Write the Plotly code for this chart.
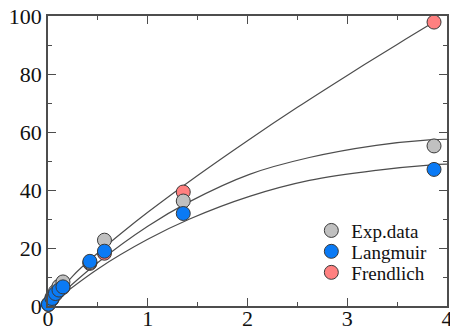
import plotly.graph_objects as go

# ---- data ----
x_data = [0.005, 0.04, 0.075, 0.11, 0.15, 0.42, 0.566, 1.356, 3.87]
exp_data = [0.8, 3.0, 5.0, 6.8, 8.3, 15.0, 22.7, 36.2, 55.2]
langmuir = [0.6, 2.6, 4.3, 5.5, 6.6, 15.4, 18.9, 31.9, 47.1]
frendlich = [0.5, 2.3, 4.0, 5.3, 6.4, 14.7, 18.2, 39.3, 97.9]

# fitted curves
x_curve = [0, 0.5, 1.0, 1.42, 2.02, 2.62, 3.29, 3.82, 4.0]
exp_curve = [0, 15.0, 27.5, 36.0, 45.4, 51.2, 55.4, 57.3, 57.5]
lang_curve = [0, 12.8, 23.0, 30.0, 37.8, 43.3, 46.8, 48.6, 48.9]
x_fren_curve = [0, 0.25, 0.5, 0.75, 1.0, 1.5, 2.0, 2.5, 3.0, 3.5, 3.87]
fren_curve = [0, 10.4, 18.3, 25.5, 32.3, 45.0, 57.0, 68.5, 79.5, 90.2, 97.9]

x_ticks = [0, 1, 2, 3, 4]
y_ticks = [0, 20, 40, 60, 80, 100]

FONT = "Liberation Serif"
LINE = "#4d4d4d"
EDGE = "#3a3a3a"

fig = go.Figure()

for xc, yc in [(x_curve, exp_curve), (x_curve, lang_curve), (x_fren_curve, fren_curve)]:
    fig.add_trace(go.Scatter(x=xc, y=yc, mode="lines", line=dict(color=LINE, width=1.2, shape="spline"),
                             showlegend=False, hoverinfo="skip", cliponaxis=False))

def mk(color):
    return dict(size=14, color=color, line=dict(color=EDGE, width=1))

fig.add_trace(go.Scatter(x=x_data, y=frendlich, mode="markers", name="Frendlich",
                         marker=mk("#ff8080"), cliponaxis=False, legend="legend3"))
fig.add_trace(go.Scatter(x=x_data, y=exp_data, mode="markers", name="Exp.data",
                         marker=mk("#c0c0c0"), cliponaxis=False, legend="legend"))
fig.add_trace(go.Scatter(x=x_data, y=langmuir, mode="markers", name="Langmuir",
                         marker=mk("#0a7af5"), cliponaxis=False, legend="legend2"))

leg_common = dict(x=0.66, xanchor="left", yanchor="middle", bgcolor="rgba(0,0,0,0)",
                  font=dict(family=FONT, size=19, color="#111"), borderwidth=0,
                  itemsizing="trace")

fig.update_layout(
    width=450, height=328,
    margin=dict(l=48, r=3, t=16, b=22),
    paper_bgcolor="white", plot_bgcolor="white",
    font=dict(family=FONT, size=22, color="#111"),
    showlegend=True,
    legend=dict(y=0.26, **leg_common),
    legend2=dict(y=0.188, **leg_common),
    legend3=dict(y=0.1155, **leg_common),
    xaxis=dict(range=[0, 4], tickvals=x_ticks, ticktext=[str(v) for v in x_ticks],
               showgrid=False, zeroline=False, showline=True, linecolor=LINE, linewidth=1.5,
               ticks="inside", ticklen=8, tickwidth=1.2, tickcolor=LINE, mirror="ticks",
               minor=dict(dtick=0.5, ticks="inside", ticklen=4, tickwidth=1.2, tickcolor=LINE),
               tickfont=dict(family=FONT, size=22, color="#111"), automargin=False,
               ticklabelstandoff=-8, ticklabeloverflow="allow"),
    yaxis=dict(range=[0, 100], tickvals=y_ticks, ticktext=[str(v) for v in y_ticks],
               showgrid=False, zeroline=False, showline=True, linecolor=LINE, linewidth=1.5,
               ticks="inside", ticklen=8, tickwidth=1.2, tickcolor=LINE, mirror="ticks",
               minor=dict(dtick=10, ticks="inside", ticklen=4, tickwidth=1.2, tickcolor=LINE),
               tickfont=dict(family=FONT, size=22, color="#111"), automargin=False,
               ticklabeloverflow="allow"),
)

fig.write_html("out.html", config={"displayModeBar": False},
               post_script="document.body.style.margin='0';document.body.style.overflow='hidden';")
